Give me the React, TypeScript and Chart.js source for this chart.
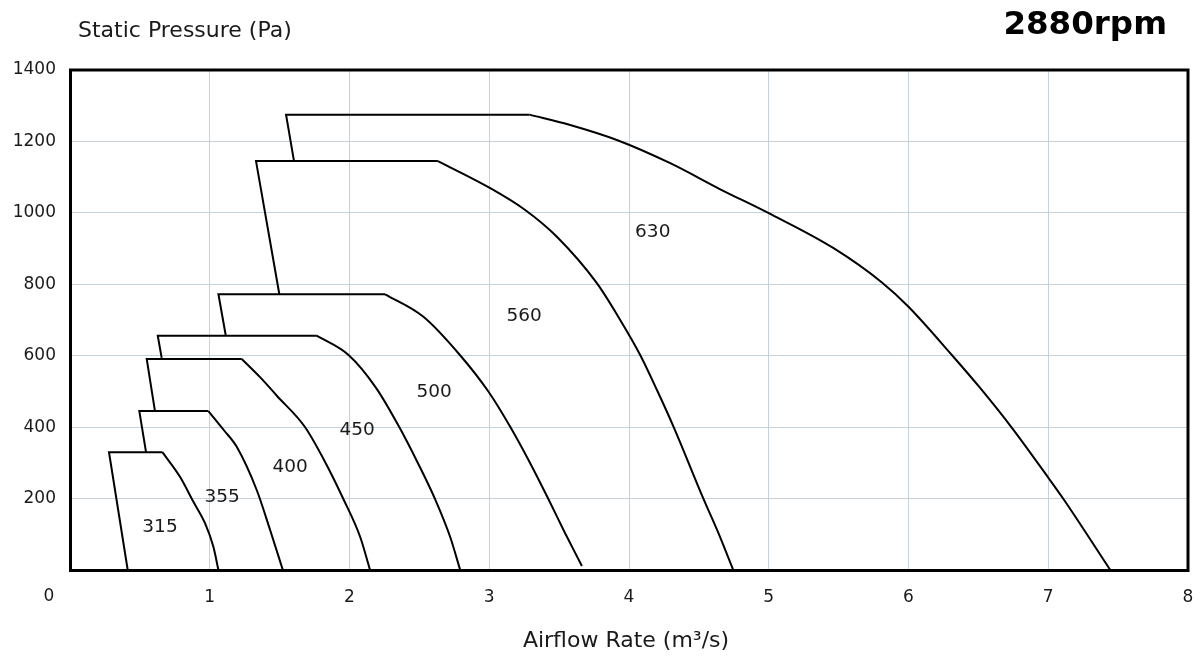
import React, { useEffect, useRef } from 'react';
import { Chart, registerables } from 'chart.js';

Chart.register(...registerables);

// Fan sizes (curve labels)
const fanSizes = ['315', '355', '400', '450', '500', '560', '630'];

// Label anchor positions (airflow m3/s, pressure Pa)
const labelFlow = [0.644, 1.088, 1.575, 2.054, 2.606, 3.25, 4.17];
const labelPressure = [120, 204, 288, 392, 498, 711, 947];

// Axis ticks
const xTicks = [0, 1, 2, 3, 4, 5, 6, 7, 8];
const yTicks = [0, 200, 400, 600, 800, 1000, 1200, 1400];

// Stall line + top (straight segments): bottom of stall line, top-left, top-right
const stall315X = [0.413, 0.279, 0.661];
const stall315Y = [0, 330, 330];
const stall355X = [0.544, 0.496, 0.99];
const stall355Y = [330, 445, 445];
const stall400X = [0.608, 0.549, 1.229];
const stall400Y = [445, 591, 591];
const stall450X = [0.656, 0.628, 1.766];
const stall450Y = [594, 656, 656];
const stall500X = [1.114, 1.062, 2.255];
const stall500Y = [658, 772, 772];
const stall560X = [1.498, 1.331, 2.632];
const stall560Y = [772, 1145, 1145];
const stall630X = [1.603, 1.546, 3.288];
const stall630Y = [1145, 1275, 1275];

// Performance curves (from top-right corner down to axis)
const curve315X = [0.661, 0.787, 0.883, 0.966, 1.026, 1.062];
const curve315Y = [330, 261, 191, 131, 65, 0];
const curve355X = [0.99, 1.1, 1.193, 1.336, 1.432, 1.523];
const curve355Y = [445, 392, 345, 224, 112, 0];
const curve400X = [1.229, 1.36, 1.48, 1.68, 1.83, 1.957, 2.076, 2.147];
const curve400Y = [591, 540, 488, 401, 299, 198, 93, 0];
const curve450X = [1.766, 1.993, 2.19, 2.355, 2.49, 2.613, 2.72, 2.792];
const curve450Y = [656, 602, 510, 401, 299, 198, 93, 0];
const curve500X = [2.255, 2.529, 2.79, 2.995, 3.15, 3.293, 3.424, 3.543, 3.663];
const curve500Y = [772, 709, 602, 499, 401, 299, 198, 103, 11];
const curve560X = [2.632, 2.994, 3.257, 3.484, 3.77, 3.937, 4.08, 4.2, 4.319, 4.533, 4.64, 4.746];
const curve560Y = [1145, 1072, 1008, 933, 803, 700, 602, 504, 401, 199, 103, 0];
const curve630X = [3.288, 3.579, 3.913, 4.295, 4.653, 5.0, 5.464, 5.81, 6.0, 6.31, 6.514, 6.74, 7.003, 7.11, 7.444];
const curve630Y = [1275, 1246, 1204, 1139, 1066, 999, 901, 805, 737, 602, 509, 398, 257, 198, 0];

const stallXs = [stall315X, stall355X, stall400X, stall450X, stall500X, stall560X, stall630X];
const stallYs = [stall315Y, stall355Y, stall400Y, stall450Y, stall500Y, stall560Y, stall630Y];
const curveXs = [curve315X, curve355X, curve400X, curve450X, curve500X, curve560X, curve630X];
const curveYs = [curve315Y, curve355Y, curve400Y, curve450Y, curve500Y, curve560Y, curve630Y];

const FONT = '"DejaVu Sans", Verdana, sans-serif';

function toPoints(xs: number[], ys: number[]) {
  return xs.map((x, i) => ({ x, y: ys[i] }));
}

const overlayPlugin = {
  id: 'overlay',
  afterDraw(chart: any) {
    const { ctx, chartArea } = chart;
    const xs = chart.scales.x;
    const ys = chart.scales.y;
    ctx.save();
    // curve labels
    ctx.font = `18.5px ${FONT}`;
    ctx.fillStyle = '#1a1a1a';
    ctx.textAlign = 'center';
    ctx.textBaseline = 'middle';
    fanSizes.forEach((s, i) => {
      ctx.fillText(s, xs.getPixelForValue(labelFlow[i]), ys.getPixelForValue(labelPressure[i]));
    });
    // origin "0" label
    ctx.font = `17px ${FONT}`;
    ctx.fillText('0', xs.getPixelForValue(0) - 21, chartArea.bottom + 27);
    // frame
    ctx.lineWidth = 3;
    ctx.strokeStyle = '#000';
    ctx.strokeRect(chartArea.left + 0.5, chartArea.top, chartArea.right - chartArea.left - 0.5, chartArea.bottom - chartArea.top + 0.5);
    // axis titles
    ctx.font = `22px ${FONT}`;
    ctx.fillStyle = '#1a1a1a';
    ctx.textAlign = 'left';
    ctx.fillText('Static Pressure (Pa)', 78, 31);
    ctx.textAlign = 'center';
    ctx.fillText('Airflow Rate (m³/s)', (chartArea.left + chartArea.right) / 2 - 3, 641);
    // rpm title
    ctx.font = `bold 32.5px ${FONT}`;
    ctx.fillStyle = '#000';
    ctx.textAlign = 'right';
    ctx.fillText('2880rpm', 1167, 26);
    ctx.restore();
  },
};

export default function App() {
  const ref = useRef<HTMLCanvasElement | null>(null);
  useEffect(() => {
    document.body.style.margin = '0';
    if (!ref.current) return;
    const datasets: any[] = [];
    fanSizes.forEach((s, i) => {
      datasets.push({
        label: s + ' stall',
        data: toPoints(stallXs[i], stallYs[i]),
        showLine: true,
        borderColor: '#000',
        borderWidth: 2,
        pointRadius: 0,
        tension: 0,
      });
      datasets.push({
        label: s,
        data: toPoints(curveXs[i], curveYs[i]),
        showLine: true,
        borderColor: '#000',
        borderWidth: 2,
        pointRadius: 0,
        cubicInterpolationMode: 'monotone',
      });
    });
    const chart = new Chart(ref.current, {
      type: 'scatter',
      data: { datasets },
      options: {
        animation: false,
        responsive: false,
        devicePixelRatio: 1,
        layout: { padding: { top: 70, right: 12, bottom: 0, left: 0 } },
        plugins: { legend: { display: false }, tooltip: { enabled: false } },
        scales: {
          x: {
            type: 'linear',
            min: 0,
            max: 8,
            afterFit: (scale: any) => {
              scale.height = 87;
              scale.paddingRight = 0;
              scale.paddingLeft = 0;
            },
            afterBuildTicks: (scale: any) => { scale.ticks = xTicks.map((v) => ({ value: v })); },
            ticks: {
              font: { family: FONT, size: 17 },
              color: '#1a1a1a',
              padding: 17,
              maxRotation: 0,
              callback: (v: any) => (v === 0 ? '' : String(v)),
            },
            grid: { color: '#c8d0d8', lineWidth: 1, drawTicks: false },
            border: { display: false },
          },
          y: {
            type: 'linear',
            min: 0,
            max: 1400,
            afterFit: (scale: any) => {
              scale.width = 70;
              scale.paddingTop = 0;
              scale.paddingBottom = 0;
            },
            afterBuildTicks: (scale: any) => { scale.ticks = yTicks.map((v) => ({ value: v })); },
            ticks: {
              font: { family: FONT, size: 17 },
              color: '#1a1a1a',
              padding: 14,
              callback: (v: any) => (v === 0 ? '' : String(v)),
            },
            grid: { color: '#c8d0d8', lineWidth: 1, drawTicks: false },
            border: { display: false },
          },
        },
      },
      plugins: [overlayPlugin],
    });
    return () => chart.destroy();
  }, []);
  return (
    <div style={{ position: 'absolute', left: 0, top: 0, width: 1200, height: 657, background: '#fff' }}>
      <canvas ref={ref} width={1200} height={657} />
    </div>
  );
}
